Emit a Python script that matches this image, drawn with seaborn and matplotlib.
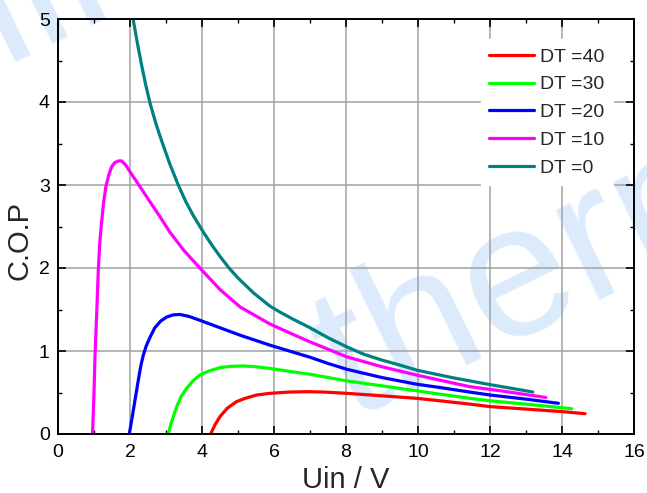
import numpy as np
import pandas as pd
import matplotlib
matplotlib.use("Agg")
import matplotlib.pyplot as plt
import seaborn as sns

# ---- data ----
dt_labels = ["DT =40", "DT =30", "DT =20", "DT =10", "DT =0"]
colors = ["#ff0000", "#00ff00", "#0000ff", "#ff00ff", "#008080"]

u_dt40 = [4.24, 4.36, 4.5, 4.7, 4.96, 5.2, 5.52, 5.89, 6.4, 6.91, 7.4, 8.02, 9.0, 9.96, 10.61, 11.44, 12.0, 13.0, 14.0, 14.64]
cop_dt40 = [0, 0.11, 0.21, 0.31, 0.39, 0.43, 0.47, 0.49, 0.505, 0.51, 0.505, 0.49, 0.46, 0.43, 0.40, 0.36, 0.33, 0.30, 0.27, 0.245]

u_dt30 = [3.06, 3.15, 3.30, 3.42, 3.57, 3.75, 3.94, 4.2, 4.5, 4.8, 5.15, 5.5, 5.89, 6.5, 7.0, 8.02, 9.0, 9.96, 10.61, 11.44, 12.0, 13.0, 14.27]
cop_dt30 = [0, 0.14, 0.33, 0.45, 0.55, 0.64, 0.71, 0.76, 0.80, 0.815, 0.82, 0.81, 0.79, 0.75, 0.72, 0.64, 0.58, 0.52, 0.48, 0.43, 0.40, 0.36, 0.305]

u_dt20 = [1.98, 2.06, 2.14, 2.22, 2.3, 2.37, 2.45, 2.55, 2.69, 2.85, 3.02, 3.2, 3.39, 3.65, 3.94, 4.5, 5.06, 5.89, 6.5, 7.0, 7.5, 8.02, 9.0, 9.96, 10.61, 11.44, 12.0, 13.0, 13.9]
cop_dt20 = [0, 0.2, 0.41, 0.62, 0.82, 0.95, 1.06, 1.16, 1.28, 1.36, 1.41, 1.435, 1.44, 1.415, 1.37, 1.28, 1.19, 1.07, 0.99, 0.925, 0.85, 0.78, 0.68, 0.60, 0.56, 0.505, 0.47, 0.42, 0.37]

u_dt10 = [0.96, 1.00, 1.03, 1.08, 1.12, 1.16, 1.21, 1.27, 1.33, 1.41, 1.49, 1.58, 1.68, 1.77, 1.88, 2.0, 2.2, 2.46, 2.83, 3.11, 3.5, 3.94, 4.5, 5.06, 5.89, 6.4, 7.0, 8.02, 9.0, 9.96, 10.7, 11.44, 12.3, 13.0, 13.55]
cop_dt10 = [0, 0.5, 0.97, 1.5, 1.98, 2.3, 2.55, 2.8, 2.98, 3.12, 3.22, 3.27, 3.29, 3.29, 3.24, 3.16, 3.03, 2.86, 2.62, 2.43, 2.21, 2.0, 1.74, 1.53, 1.325, 1.225, 1.11, 0.93, 0.81, 0.71, 0.64, 0.57, 0.52, 0.475, 0.44]

u_dt0 = [2.09, 2.2, 2.32, 2.44, 2.56, 2.72, 2.88, 3.1, 3.34, 3.55, 3.76, 4.04, 4.3, 4.5, 4.75, 5.0, 5.43, 5.89, 6.2, 6.5, 7.0, 7.5, 8.02, 8.5, 9.0, 9.5, 9.96, 10.61, 11.0, 11.44, 12.0, 12.6, 13.19]
cop_dt0 = [4.99, 4.72, 4.45, 4.2, 3.98, 3.74, 3.53, 3.26, 3.0, 2.8, 2.63, 2.43, 2.26, 2.14, 2.0, 1.88, 1.70, 1.54, 1.46, 1.39, 1.28, 1.16, 1.05, 0.96, 0.89, 0.83, 0.77, 0.71, 0.675, 0.64, 0.595, 0.55, 0.506]

x_ticks = [0, 2, 4, 6, 8, 10, 12, 14, 16]
y_ticks = [0, 1, 2, 3, 4, 5]

series = [(u_dt40, cop_dt40), (u_dt30, cop_dt30), (u_dt20, cop_dt20),
          (u_dt10, cop_dt10), (u_dt0, cop_dt0)]
frames = []
for lab, (u, c) in zip(dt_labels, series):
    frames.append(pd.DataFrame({"Uin": u, "COP": c, "DT": lab}))
df = pd.concat(frames, ignore_index=True)

# ---- style ----
sns.set_style("ticks")
plt.rcParams["font.family"] = ["Liberation Sans", "DejaVu Sans"]

fig = plt.figure(figsize=(6.47, 4.93), dpi=100)
ax = fig.add_axes([58 / 647, 1 - 434 / 493, 576 / 647, 415 / 493])
ax.patch.set_alpha(0)

# watermark (behind axes)
wm = dict(color="#dcebfc", fontsize=137, rotation=26, zorder=-5,
          ha="left", va="baseline", rotation_mode="anchor")
fig.text(350 / 647, 1 - 420 / 493, "therm", **wm)
fig.text(2 / 647, 1 - 62 / 493, "lll", **wm)

sns.lineplot(data=df, x="Uin", y="COP", hue="DT", hue_order=dt_labels,
             palette=colors, sort=False, estimator=None, units="DT",
             linewidth=2.3, ax=ax, legend=True)

ax.set_xlim(0, 16)
ax.set_ylim(0, 5)
ax.set_xticks(x_ticks)
ax.set_yticks(y_ticks)
ax.set_xticks(np.arange(1, 16, 2), minor=True)
ax.set_yticks(np.arange(0.5, 5, 1.0), minor=True)
ax.grid(True, which="major", color="#a0a0a0", linewidth=1.1)
ax.set_axisbelow(True)

for s in ax.spines.values():
    s.set_visible(True)
    s.set_linewidth(1.4)
    s.set_color("black")

ax.tick_params(which="both", direction="in", top=True, right=True,
               colors="black", labelsize=14)
ax.tick_params(which="major", length=5.8, width=1.2)
ax.tick_params(which="minor", length=2.9, width=1.0)
ax.tick_params(axis="x", which="major", pad=7)
ax.tick_params(axis="y", which="major", pad=6)

ax.set_xlabel("Uin / V", fontsize=21)
ax.set_ylabel("C.O.P", fontsize=21)
ax.xaxis.set_label_coords(0.5, -0.077)
ax.yaxis.set_label_coords(-0.043, 0.467)

leg = ax.legend(loc="upper right", bbox_to_anchor=(0.9635, 0.951),
                borderaxespad=0, fontsize=14, handlelength=2.3,
                handletextpad=0.3, labelspacing=0.52, frameon=True,
                fancybox=False, borderpad=0.45)
leg.get_frame().set_facecolor("white")
leg.get_frame().set_edgecolor("white")
leg.get_frame().set_alpha(1)
for h in leg.get_lines():
    h.set_linewidth(2.3)

fig.savefig("out.png", dpi=100)
